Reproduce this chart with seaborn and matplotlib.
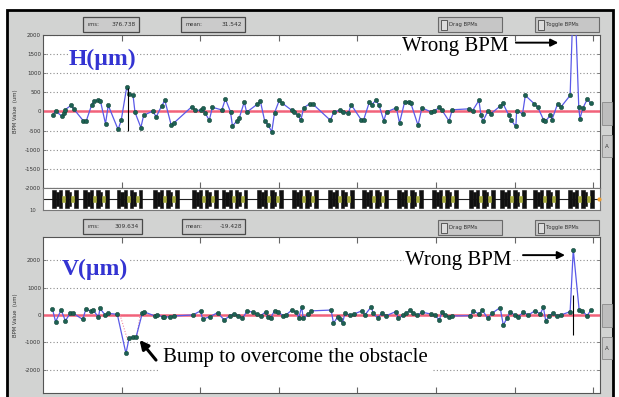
import matplotlib
matplotlib.use("Agg")
import matplotlib.pyplot as plt
from matplotlib.patches import Rectangle
import seaborn as sns
import pandas as pd

# BPM positions (m) and horizontal orbit (um)
h_s = [2.5, 3.2, 4.8, 5.4, 5.7, 7.1, 7.8, 10.3, 11.0, 12.4, 13.1, 14.1, 14.6, 15.9, 16.6,
       19.1, 19.9, 21.3, 22.0, 22.9, 23.4, 24.9, 25.6, 27.9, 28.8, 30.2, 31.0, 32.6, 33.3,
       37.9, 38.7, 40.3, 40.6, 41.2, 42.3, 43.1, 45.5, 46.4, 47.7, 48.2, 49.3, 49.9, 51.2,
       51.8, 54.5, 55.3, 56.4, 57.2, 58.2, 58.9, 60.1, 60.7, 63.3, 63.9, 64.9, 65.6, 66.3,
       67.8, 68.6, 73.1, 74.0, 75.6, 76.4, 77.7, 78.4, 80.9, 81.6, 83.0, 83.6, 84.7, 85.5,
       86.7, 87.4, 89.9, 90.7, 92.0, 93.0, 93.6, 95.4, 96.4, 98.7, 99.5, 100.8, 101.5, 103.3,
       104.1, 108.5, 109.3, 110.9, 111.4, 111.9, 113.2, 113.9, 116.3, 117.0, 118.5, 119.1,
       120.3, 120.5, 122.0, 122.7, 125.0, 125.9, 127.3, 127.8, 129.1, 129.5, 130.9, 131.7,
       134.1, 135.1, 136.3, 136.6, 137.3, 138.5, 139.3]
h_val = [-90, 10, -120, -50, 50, 160, 70, -250, -250, 180, 280, 310, 280, -320, 160,
         -470, -230, 640, 450, 430, -20, -420, -100, 10, -140, 150, 290, -350, -300,
         130, 30, 30, 80, -30, -230, 110, 40, 330, -10, -380, -250, -180, 250,
         -20, 190, 270, -250, -340, -530, -35, 290, 230, 30, -20, -100, -230, 95,
         200, 200, -230, -10, 35, -25, -35, 180, -210, -210, 240, 180, 290, 160,
         -240, -10, 95, -300, 250, 260, 210, -360, 95, -10, 10, 105, 35, -250,
         45, 70, 25, 290, -80, -260, 15, -60, 140, 210, -95, -230,
         -390, 25, -60, 420, 200, 105, -210, -260, -95, -210, 200, 110,
         420, 3600, 110, -190, 80, 330, 210]

# vertical orbit (um)
v_s = [2.4, 3.2, 4.6, 5.7, 6.9, 7.7, 10.1, 10.9, 12.1, 12.8, 14.1, 14.5, 15.8, 16.6, 18.9,
       21.1, 21.9, 23.0, 23.7, 25.3, 25.8, 28.5, 28.9, 30.5, 30.9, 32.3, 33.2, 38.1, 40.1,
       40.6, 42.5, 44.4, 46.1, 47.6, 48.6, 49.7, 50.7, 52.0, 53.3, 54.4, 55.4, 56.7, 57.2,
       57.9, 58.9, 59.9, 61.1, 61.8, 63.3, 64.3, 65.1, 65.8, 66.2, 67.5, 68.2, 73.3, 73.9,
       75.0, 75.6, 76.2, 76.8, 78.1, 79.1, 81.1, 81.9, 83.5, 84.0, 85.1, 86.2, 87.3, 89.7,
       90.4, 91.7, 92.4, 93.4, 94.2, 95.2, 96.5, 98.7, 99.7, 100.8, 101.5, 102.3, 103.4,
       104.0, 108.7, 109.5, 110.9, 111.8, 113.1, 114.2, 116.3, 117.1, 118.0, 118.8, 120.1,
       120.9, 122.2, 123.5, 125.2, 126.5, 127.3, 127.9, 128.8, 129.7, 130.7, 131.7, 134.1,
       134.9, 136.4, 137.1, 138.4, 139.4]
v_val = [220, -245, 180, -210, 60, 60, -160, 210, 150, 180, -85, 240, 0, 60, 25,
         -1400, -840, -790, -790, 85, 110, -35, 0, -60, -85, -60, -35, 0, 150,
         -150, -60, 85, -180, -25, 35, -25, -120, 150, 100, 35, -25, 120, -85,
         -100, 150, 100, -25, 0, 180, 100, -100, 300, -120, 25, 150, 180, -300,
         -60, -160, -300, 60, 0, 35, 150, 0, 300, 60, -100, 60, -25, 120,
         -120, 0, 60, 180, 60, 0, 100, 35, 0, -180, 100, 0, -85,
         -35, -25, 150, 35, 180, -120, 60, 270, -370, -120, 100, 0,
         -60, 100, 0, 160, 35, 280, -220, -25, 60, -25, 0, 120,
         2380, 180, 160, -25, 180]

# designed bump (dotted reference) in V
bump_s = [19.6, 21.5, 23.8, 24.7]
bump_val = [0, -900, -850, 0]

# selected-BPM cursor (s, low, high)
cursor_h = (21.6, -520, 620)
cursor_v = (134.9, -730, 730)

h_stats = ("376.738", "31.542")
v_stats = ("309.634", "-19.428")

# lattice: cell starts and element pattern (offset, width, half height, kind)
cell_s = [2.3, 10.2, 18.8, 28.0, 37.9, 45.5, 54.5, 63.4, 72.5, 81.2, 90.1, 99.0,
          108.4, 116.3, 124.7, 133.6]
elem_off = [0.0, 0.9, 1.7, 2.6, 3.3, 4.2, 4.9, 5.6]
elem_w = [0.9, 0.8, 0.9, 0.7, 0.9, 0.7, 0.7, 0.9]
elem_h = [0.85, 0.65, 0.85, 0.3, 0.85, 0.65, 0.3, 0.85]
elem_kind = ["b", "b", "b", "q", "b", "b", "q", "b"]

h_df = pd.DataFrame({"s": h_s, "val": h_val})
v_df = pd.DataFrame({"s": v_s, "val": v_val})

sns.set_style("white")
plt.rcParams["font.family"] = ["DejaVu Sans"]
plt.rcParams["axes.unicode_minus"] = False

W, H = 619, 397
fig = plt.figure(figsize=(W / 100, H / 100), dpi=100)
fig.patch.set_facecolor("white")

# background widgets in pixel coordinates
bg = fig.add_axes([0, 0, 1, 1], zorder=0)
bg.set_xlim(0, W)
bg.set_ylim(H, 0)
bg.axis("off")
bg.add_patch(Rectangle((7, 10), 606, 392, facecolor="#d2d3d2", edgecolor="black", lw=2))


def stat_box(x, y, w, label, value):
    bg.add_patch(Rectangle((x, y), w, 15, facecolor="#cbcbcb", edgecolor="#4a4a4a", lw=0.9))
    bg.text(x + 4, y + 7.5, label, fontsize=3.8, color="#333", va="center")
    bg.text(x + w - 3, y + 7.5, value, fontsize=4.2, color="#333", va="center", ha="right")


def button(x, y, label):
    bg.add_patch(Rectangle((x, y), 64, 15, facecolor="#c6c6c6", edgecolor="#6a6a6a", lw=0.8))
    bg.add_patch(Rectangle((x + 2.5, y + 2.5), 6, 10, facecolor="#dcdcdc", edgecolor="#444", lw=0.6))
    bg.text(x + 11, y + 7.5, label, fontsize=3.8, color="#333", va="center")


def side_widgets(y):
    bg.add_patch(Rectangle((602, y), 10, 23, facecolor="#bdbdbd", edgecolor="#8a8a8a", lw=0.6))
    bg.add_patch(Rectangle((602, y + 33), 10, 22, facecolor="#c9c9c9", edgecolor="#8a8a8a", lw=0.6))
    bg.text(607, y + 44, "A", fontsize=4, color="#333", ha="center", va="center")


stat_box(83, 17, 56, "rms:", h_stats[0])
stat_box(181, 17, 64, "mean:", h_stats[1])
button(438, 17, "Drag BPMs")
button(535, 17, "Toggle BPMs")
stat_box(83, 219, 59, "rms:", v_stats[0])
stat_box(182, 219, 63, "mean:", v_stats[1])
button(438, 220, "Drag BPMs")
button(535, 220, "Toggle BPMs")
side_widgets(102)
side_widgets(304)
bg.text(33, 210, "10", fontsize=3.8, color="#444", ha="center", va="center")

XMAX = 141.7
left, width = 43 / W, 557 / W
ax_h = fig.add_axes([left, 1 - 188 / H, width, 153 / H], zorder=2)
ax_l = fig.add_axes([left, 1 - 210 / H, width, 22 / H], zorder=2)
ax_v = fig.add_axes([left, 1 - 393 / H, width, 156 / H], zorder=2)


def bpm_panel(ax, df, ylim, yticks):
    ax.set_facecolor("white")
    for yt in yticks:
        ax.axhline(yt, color="#8c8c8c", lw=0.8, ls=(0, (1, 2)), zorder=1)
    ax.axhline(0, color="#f2627a", lw=1.8, zorder=2)
    sns.lineplot(data=df, x="s", y="val", ax=ax, color="#5a5ae8", lw=0.9,
                 sort=False, estimator=None, zorder=3)
    sns.scatterplot(data=df, x="s", y="val", ax=ax, color="#1d6152", s=10,
                    edgecolor="#0f3d33", linewidth=0.3, zorder=4)
    ax.set_xlim(0, XMAX)
    ax.set_ylim(*ylim)
    ax.set_xticks(range(20, 141, 20))
    ax.set_xticklabels([])
    ax.set_yticks(yticks)
    ax.set_yticklabels([str(t) for t in yticks])
    ax.tick_params(axis="x", direction="in", top=True, bottom=True, length=4,
                   width=0.8, color="#666")
    ax.tick_params(axis="y", direction="in", left=True, right=True, length=2.5,
                   width=0.6, color="#666", labelsize=4, pad=1.5, labelcolor="#333")
    ax.set_xlabel("")
    ax.set_ylabel("BPM Value  (um)", fontsize=3.8, color="#333")
    ax.yaxis.set_label_coords(-0.045, 0.5)
    for sp in ax.spines.values():
        sp.set_color("#555")
        sp.set_linewidth(0.8)


serif = ["Liberation Serif", "DejaVu Serif"]
box = dict(facecolor="white", edgecolor="none", pad=0.5)

# horizontal panel
bpm_panel(ax_h, h_df, (-2000, 2000), [2000, 1500, 1000, 500, 0, -500, -1000, -1500, -2000])
ax_h.vlines(cursor_h[0], cursor_h[1], cursor_h[2], color="black", lw=0.8, zorder=5)
ax_h.text(6.6, 1365, "H(µm)", family=serif, fontsize=17, fontweight="bold",
          color="#3434d2", va="center", bbox=box, zorder=6)
ax_h.text(91.3, 1700, "Wrong BPM", family=serif, fontsize=15, color="black",
          va="center", bbox=box, zorder=6)
ax_h.annotate("", xy=(131.8, 1800), xytext=(119.6, 1800),
              arrowprops=dict(arrowstyle="-|>", color="black", lw=1.4, mutation_scale=11),
              zorder=6)

# vertical panel
bpm_panel(ax_v, v_df, (-2840, 2840), [2000, 1000, 0, -1000, -2000])
sns.lineplot(x=bump_s, y=bump_val, ax=ax_v, color="#f08aa0", lw=0.8,
             ls=(0, (1, 1.5)), sort=False, estimator=None, zorder=2.5)
ax_v.vlines(cursor_v[0], cursor_v[1], cursor_v[2], color="black", lw=0.8, zorder=5)
ax_v.text(4.8, 1674, "V(µm)", family=serif, fontsize=17, fontweight="bold",
          color="#3434d2", va="center", bbox=box, zorder=6)
ax_v.text(92.1, 2000, "Wrong BPM", family=serif, fontsize=15, color="black",
          va="center", bbox=box, zorder=6)
ax_v.annotate("", xy=(133.5, 2180), xytext=(121.4, 2180),
              arrowprops=dict(arrowstyle="-|>", color="black", lw=1.4, mutation_scale=11),
              zorder=6)
ax_v.text(30.6, -1560, "Bump to overcome the obstacle", family=serif, fontsize=15,
          color="black", va="center", bbox=dict(facecolor="white", edgecolor="none", pad=3),
          zorder=6)
ax_v.annotate("", xy=(24.1, -830), xytext=(29.2, -1720),
              arrowprops=dict(arrowstyle="-|>", color="black", lw=2.2, mutation_scale=13),
              zorder=7)

# lattice strip
ax_l.set_facecolor("white")
ax_l.axhline(0, color="#222", lw=0.8, zorder=1)
for cs in cell_s:
    for off, w, hh, kind in zip(elem_off, elem_w, elem_h, elem_kind):
        col = "#111111" if kind == "b" else "#a8ad3c"
        ax_l.bar(cs + off, 2 * hh, bottom=-hh, width=w, align="edge", color=col,
                 edgecolor=col, linewidth=0.4, zorder=2 if kind == "b" else 3)
ax_l.plot([XMAX - 0.2], [0], marker="o", ms=2, color="#f0a030", zorder=3, clip_on=False)
ax_l.set_xlim(0, XMAX)
ax_l.set_ylim(-1, 1)
ax_l.set_xticks([])
ax_l.set_yticks([])
for sp in ax_l.spines.values():
    sp.set_color("#777")
    sp.set_linewidth(0.8)

fig.savefig("out.png", dpi=100)
